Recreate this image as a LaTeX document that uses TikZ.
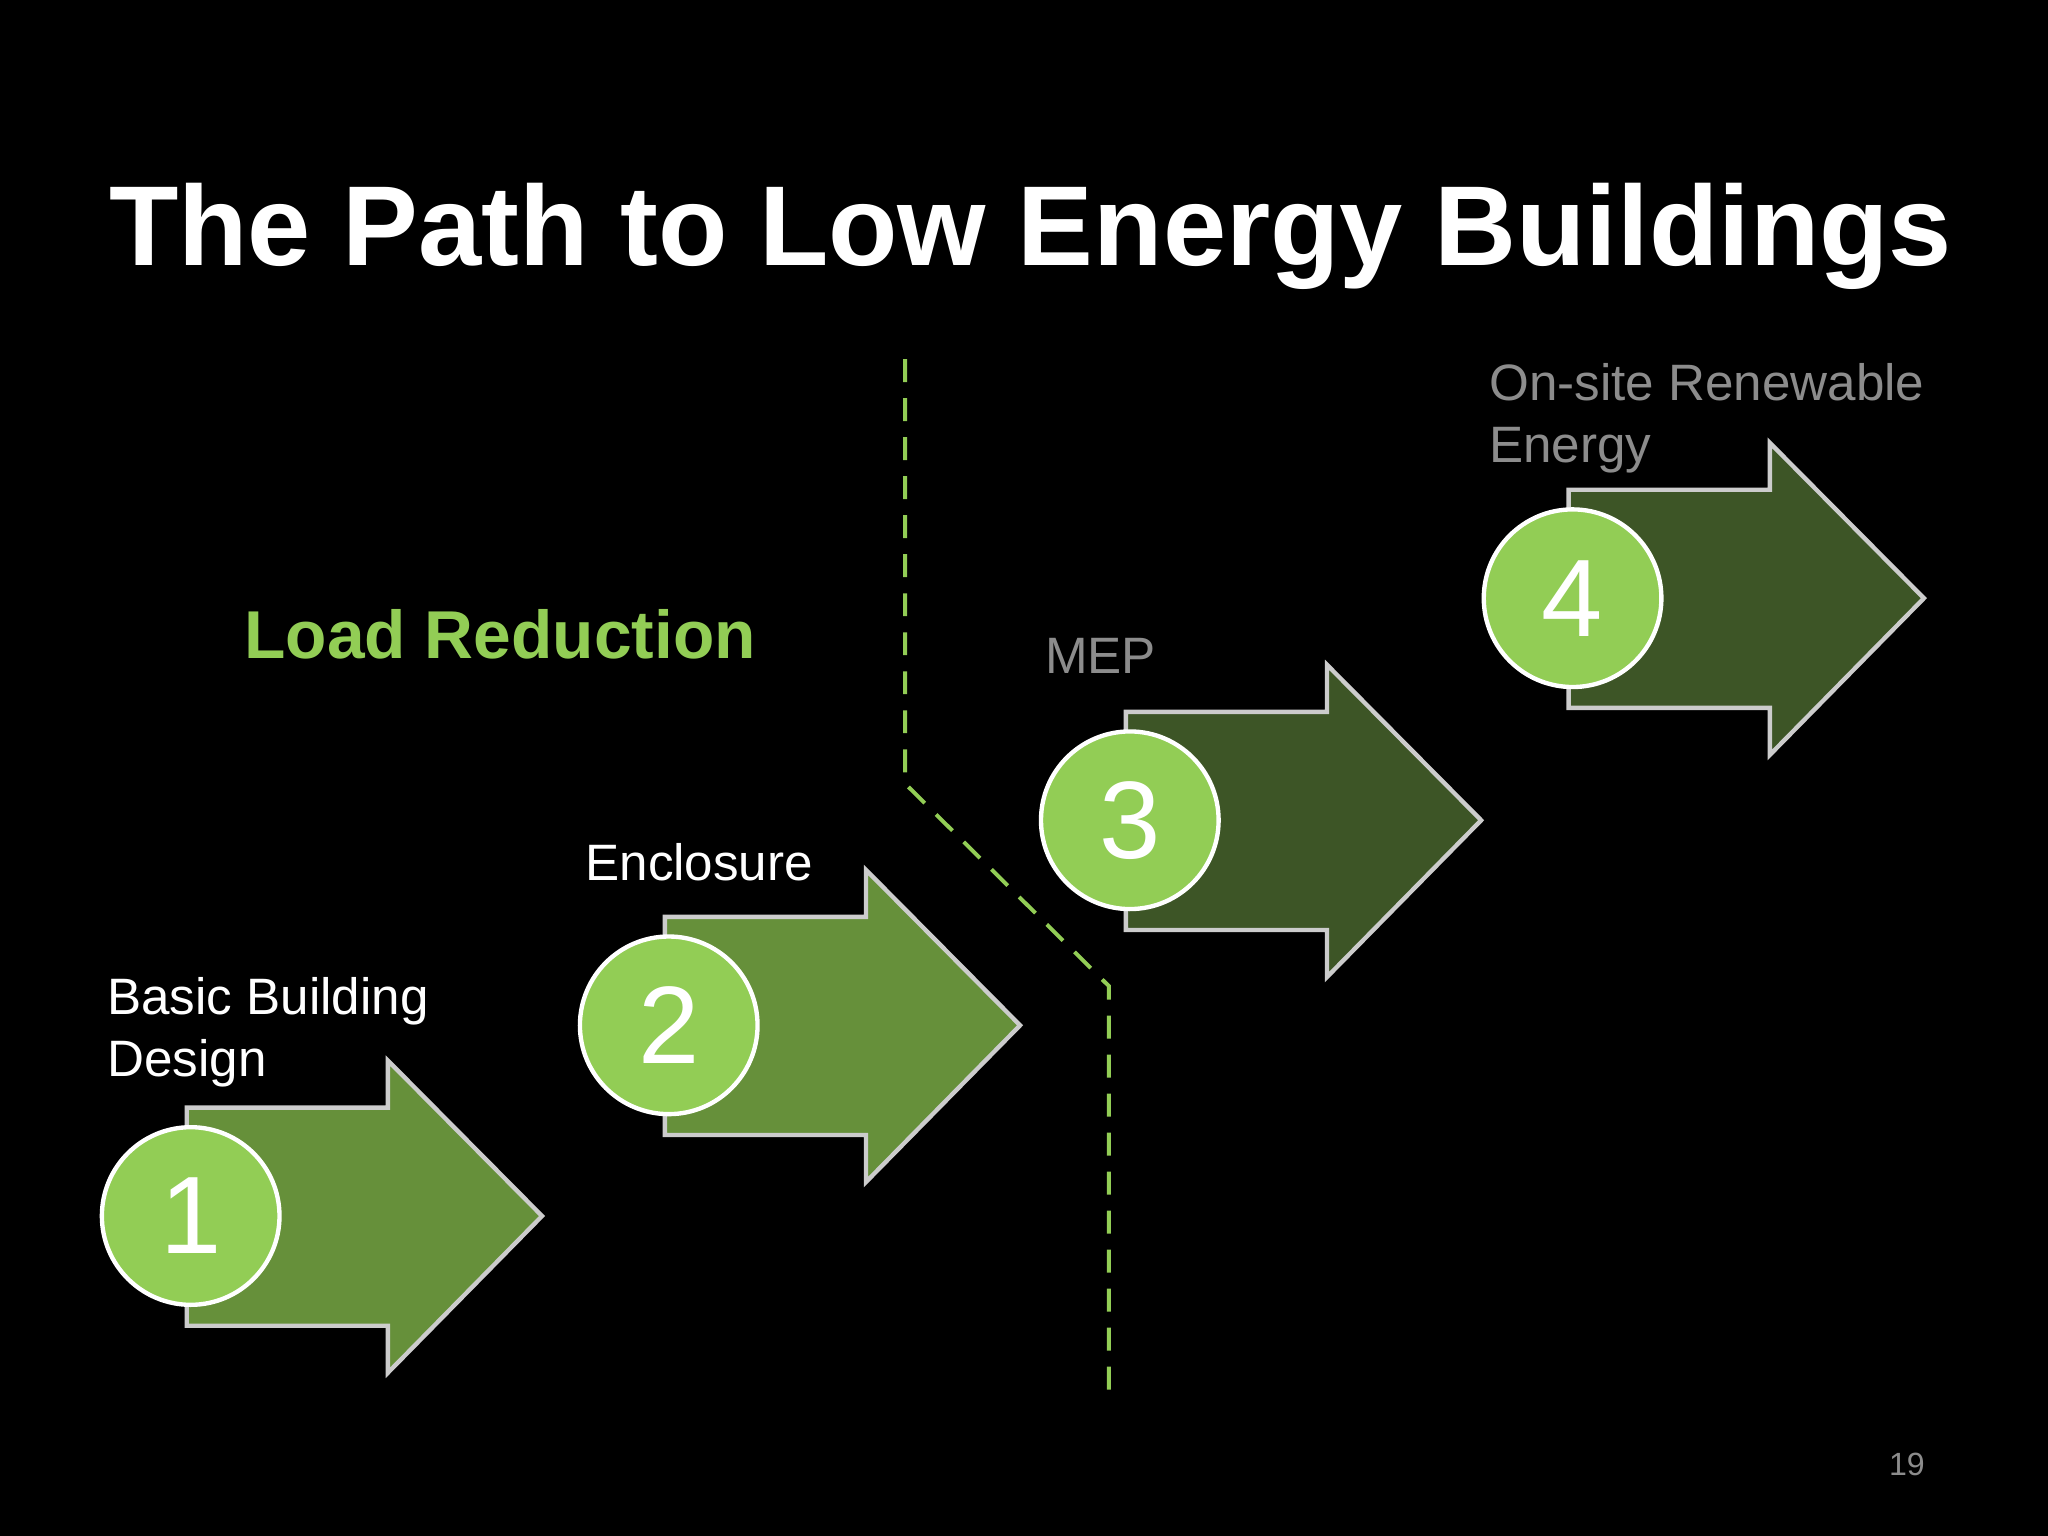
\documentclass[tikz,border=0pt]{standalone}
\usepackage{fontspec}
\setmainfont{Liberation Sans}
\begin{document}
\definecolor{lg}{HTML}{92CD55}
\definecolor{ag}{HTML}{66903A}
\definecolor{dg}{HTML}{3D5526}
\definecolor{gr}{HTML}{8C8C8C}
\begin{tikzpicture}[x=0.02cm,y=-0.02cm,
  arr/.style={draw=black!20,line width=1.9pt,line join=miter},
  num/.style={circle,draw=white,line width=1.9pt,fill=lg,minimum size=136*0.02cm,inner sep=0pt,text=white,font=\fontsize{48}{48}\selectfont},
  lab/.style={anchor=west,align=left,font=\fontsize{22.3}{27}\selectfont}]
\fill[black] (0,0) rectangle (1568,1176);
\useasboundingbox (0,0) rectangle (1568,1176);
\node[text=white,font=\fontsize{49.5}{49.5}\selectfont\bfseries] (title) at (789,181) {The Path to Low Energy Buildings};
\node[text=lg,font=\fontsize{29.5}{29.5}\selectfont\bfseries] (load) at (383,486) {Load Reduction};
\coordinate (d1) at (693,275); \coordinate (d2) at (693,600);
\coordinate (d3) at (849,755); \coordinate (d4) at (849,1072);
\draw[lg,line width=1.7pt,dash pattern=on 10pt off 7pt] (d1)--(d2)--(d3)--(d4);
\foreach \x/\y/\c/\n in {143/848/ag/1,509/702/ag/2,862/545/dg/3,1201/375/dg/4}{
  \draw[arr,fill=\c] (\x,\y) -- ++(154,0) -- ++(0,-36) -- ++(118,119) -- ++(-118,120) -- ++(0,-36) -- ++(-154,0) -- cycle;
  \node[num] (c\n) at (\x+3,\y+83) {\n};
}
\node[lab,text=white,anchor=north west] (l1) at (76,742) {Basic Building\\Design};
\node[lab,text=white] (l2) at (442,660) {Enclosure};
\node[lab,text=gr] (l3) at (794,502) {MEP};
\node[lab,text=gr,anchor=north west] (l4) at (1134,272) {On-site Renewable\\Energy};
\node[text=gr,font=\fontsize{14}{14}\selectfont] (pg) at (1460,1121) {19};
\end{tikzpicture}
\end{document}
